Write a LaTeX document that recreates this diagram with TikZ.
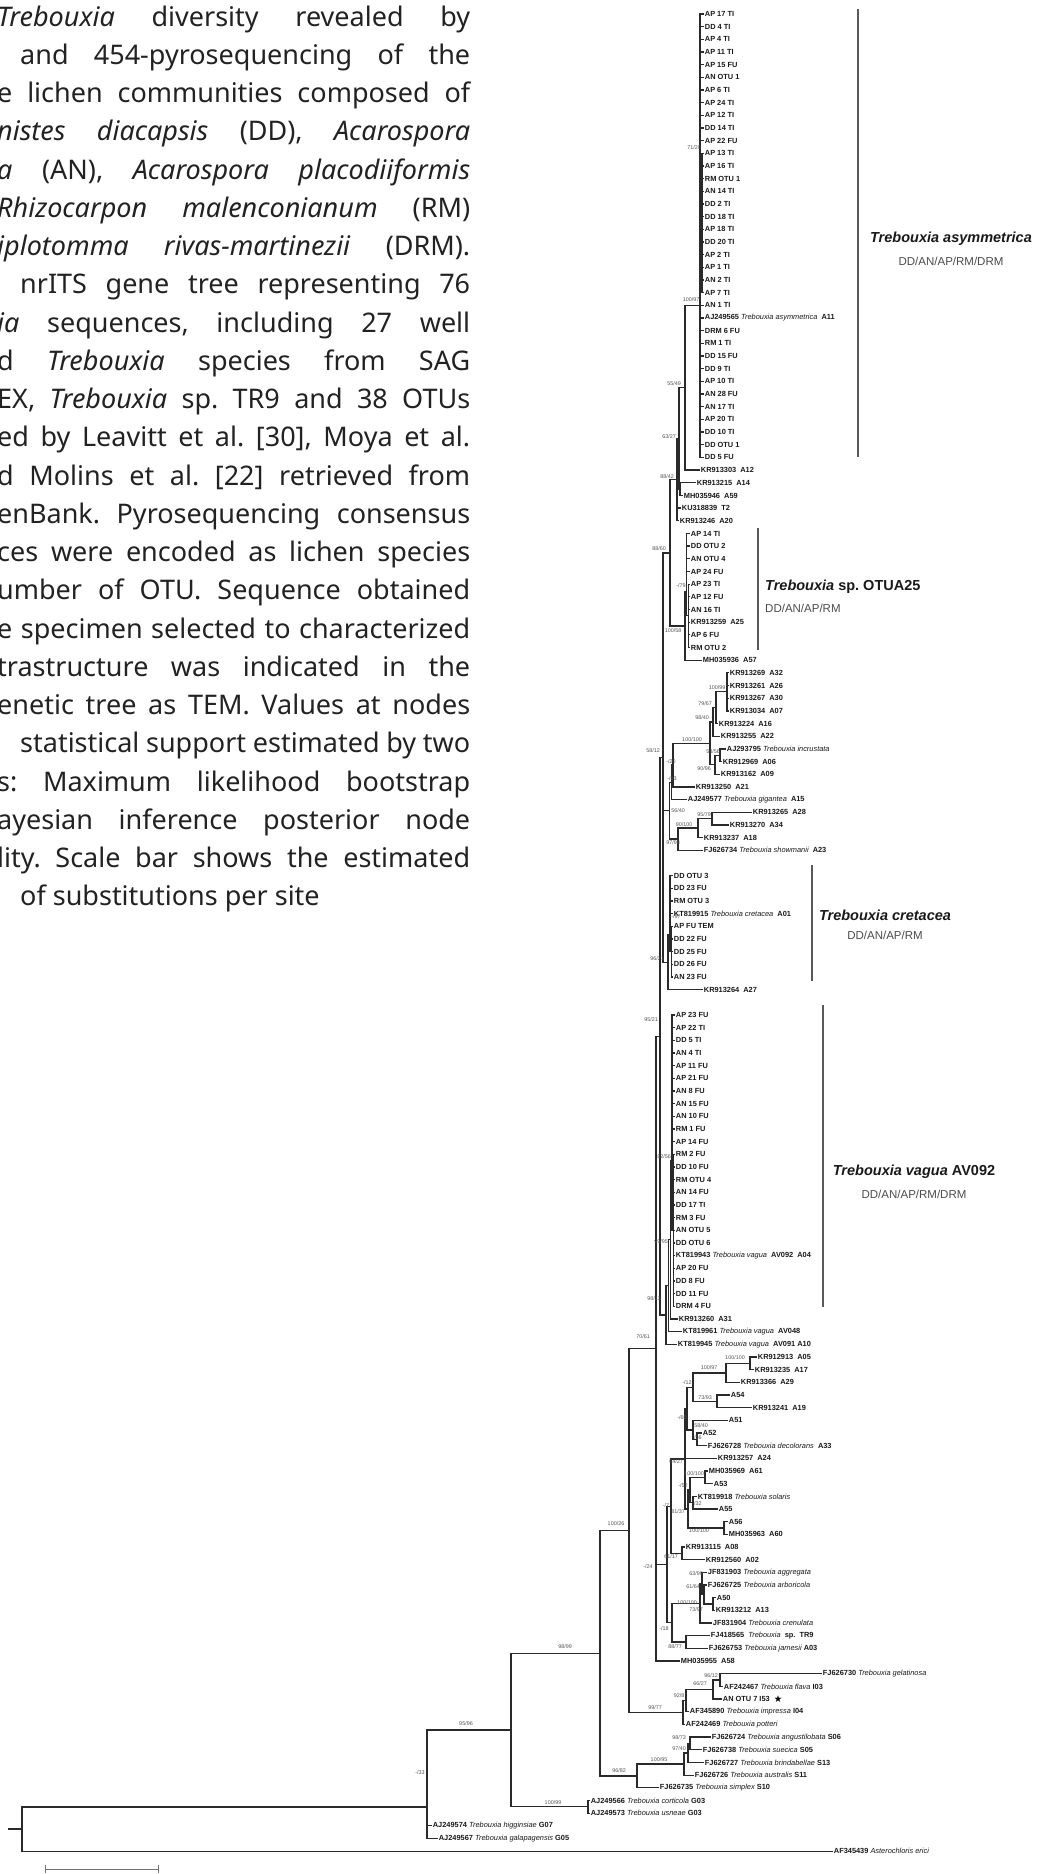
\documentclass[tikz,border=0pt]{standalone}
\usepackage{fontspec}
\setmainfont{Noto Sans}
\newfontfamily\treefont{Liberation Sans}
\newfontfamily\symbfont{DejaVu Sans}
\usetikzlibrary{positioning}
\definecolor{treeline}{HTML}{2A2A2A}
\definecolor{suppgray}{HTML}{555555}
\definecolor{captext}{HTML}{222222}
\newcommand\spn[1]{{\mdseries\itshape #1}}
\frenchspacing

\begin{document}
\begin{tikzpicture}[
    x=1pt, y=-1pt,
    declare function={ty(\k)=14+12.67*\k;},
    br/.style={draw=treeline, line width=1.3pt},
    leaf/.style={anchor=west, inner sep=0.7pt, text=black!90,
      font=\treefont\bfseries\fontsize{7.4}{8}\selectfont},
    supp/.style={inner sep=0pt, text=suppgray,
      font=\treefont\fontsize{5.4}{6}\selectfont},
    cladebar/.style={draw=black!65, line width=1.1pt},
    cladename/.style={inner sep=0pt, text=black!90,
      font=\treefont\bfseries\fontsize{14.5}{16}\selectfont},
    cladesub/.style={inner sep=0pt, text=black!70,
      font=\treefont\fontsize{11.5}{13}\selectfont},
    capline/.style={anchor=base west, inner sep=0pt, text=captext,
      font=\fontsize{27}{32}\selectfont},
  ]
  \path[use as bounding box, fill=white] (0,0) rectangle (1041,1874);

  % caption (cut at the left edge)
  \node[capline] (cap0) at (-3,{26+38.25*0}) {\makebox[473pt][s]{\textit{Trebouxia} diversity revealed by}};
  \node[capline] (cap1) at (20,{26+38.25*1}) {\makebox[450pt][s]{and 454-pyrosequencing of the}};
  \node[capline] (cap2) at (-3,{26+38.25*2}) {\makebox[473pt][s]{e lichen communities composed of}};
  \node[capline] (cap3) at (-3,{26+38.25*3}) {\makebox[473pt][s]{\textit{nistes diacapsis} (DD), \textit{Acarospora}}};
  \node[capline] (cap4) at (-3,{26+38.25*4}) {\makebox[473pt][s]{\textit{a} (AN), \textit{Acarospora placodiiformis}}};
  \node[capline] (cap5) at (-3,{26+38.25*5}) {\makebox[473pt][s]{\textit{Rhizocarpon malenconianum} (RM)}};
  \node[capline] (cap6) at (-3,{26+38.25*6}) {\makebox[473pt][s]{\textit{iplotomma rivas-martinezii} (DRM).}};
  \node[capline] (cap7) at (20,{26+38.25*7}) {\makebox[450pt][s]{nrITS gene tree representing 76}};
  \node[capline] (cap8) at (-3,{26+38.25*8}) {\makebox[473pt][s]{\textit{ia} sequences, including 27 well}};
  \node[capline] (cap9) at (-3,{26+38.25*9}) {\makebox[473pt][s]{d \textit{Trebouxia} species from SAG}};
  \node[capline] (cap10) at (-3,{26+38.25*10}) {\makebox[473pt][s]{EX, \textit{Trebouxia} sp. TR9 and 38 OTUs}};
  \node[capline] (cap11) at (-3,{26+38.25*11}) {\makebox[473pt][s]{ed by Leavitt et al. [30], Moya et al.}};
  \node[capline] (cap12) at (-3,{26+38.25*12}) {\makebox[473pt][s]{d Molins et al. [22] retrieved from}};
  \node[capline] (cap13) at (-3,{26+38.25*13}) {\makebox[473pt][s]{enBank. Pyrosequencing consensus}};
  \node[capline] (cap14) at (-3,{26+38.25*14}) {\makebox[473pt][s]{ces were encoded as lichen species}};
  \node[capline] (cap15) at (-3,{26+38.25*15}) {\makebox[473pt][s]{umber of OTU. Sequence obtained}};
  \node[capline] (cap16) at (-3,{26+38.25*16}) {\makebox[473pt][s]{e specimen selected to characterized}};
  \node[capline] (cap17) at (-3,{26+38.25*17}) {\makebox[473pt][s]{trastructure was indicated in the}};
  \node[capline] (cap18) at (-3,{26+38.25*18}) {\makebox[473pt][s]{enetic tree as TEM. Values at nodes}};
  \node[capline] (cap19) at (20,{26+38.25*19}) {\makebox[450pt][s]{statistical support estimated by two}};
  \node[capline] (cap20) at (-3,{26+38.25*20}) {\makebox[473pt][s]{s: Maximum likelihood bootstrap}};
  \node[capline] (cap21) at (-3,{26+38.25*21}) {\makebox[473pt][s]{ayesian inference posterior node}};
  \node[capline] (cap22) at (-3,{26+38.25*22}) {\makebox[473pt][s]{lity. Scale bar shows the estimated}};
  \node[capline] (cap23) at (20,{26+38.25*23}) {of substitutions per site};

  % tips: T. asymmetrica
  \foreach \i/\t in {0/AP 17 TI, 1/DD 4 TI, 2/AP 4 TI, 3/AP 11 TI, 4/AP 15 FU,
      5/AN OTU 1, 6/AP 6 TI, 7/AP 24 TI, 8/AP 12 TI, 9/DD 14 TI, 10/AP 22 FU,
      11/AP 13 TI, 12/AP 16 TI, 13/RM OTU 1, 14/AN 14 TI, 15/DD 2 TI,
      16/DD 18 TI, 17/AP 18 TI, 18/DD 20 TI, 19/AP 2 TI, 20/AP 1 TI,
      21/AN 2 TI, 22/AP 7 TI, 23/AN 1 TI,
      24/{AJ249565 \spn{Trebouxia asymmetrica}~~A11}, 25/DRM 6 FU, 26/RM 1 TI,
      27/DD 15 FU, 28/DD 9 TI, 29/AP 10 TI, 30/AN 28 FU, 31/AN 17 TI,
      32/AP 20 TI, 33/DD 10 TI, 34/DD OTU 1, 35/DD 5 FU}
    \node[leaf] (l\i) at (704,{ty(\i)}) {\t};
  \node[leaf] (l36) at (700,{ty(36)}) {KR913303~~A12};
  \node[leaf] (l37) at (696,{ty(37)}) {KR913215~~A14};
  \node[leaf] (l38) at (683,{ty(38)}) {MH035946~~A59};
  \node[leaf] (l39) at (681,{ty(39)}) {KU318839~~T2};
  \node[leaf] (l40) at (679,{ty(40)}) {KR913246~~A20};
  % T. sp. OTUA25
  \foreach \i/\t in {41/AP 14 TI, 42/DD OTU 2, 43/AN OTU 4, 44/AP 24 FU,
      45/AP 23 TI, 46/AP 12 FU, 47/AN 16 TI, 48/KR913259~~A25, 49/AP 6 FU,
      50/RM OTU 2}
    \node[leaf] (l\i) at (690,{ty(\i)}) {\t};
  \node[leaf] (l51) at (702,{ty(51)}) {MH035936~~A57};
  \foreach \i/\t in {52/KR913269~~A32, 53/KR913261~~A26, 54/KR913267~~A30,
      55/KR913034~~A07}
    \node[leaf] (l\i) at (729,{ty(\i)}) {\t};
  \node[leaf] (l56) at (718,{ty(56)}) {KR913224~~A16};
  \node[leaf] (l57) at (720,{ty(57)}) {KR913255~~A22};
  \node[leaf] (l58) at (726,{ty(58)}) {AJ293795 \spn{Trebouxia incrustata}};
  \node[leaf] (l59) at (722,{ty(59)}) {KR912969~~A06};
  \node[leaf] (l60) at (720,{ty(60)}) {KR913162~~A09};
  \node[leaf] (l61) at (695,{ty(61)}) {KR913250~~A21};
  \node[leaf] (l62) at (687,{ty(62)}) {AJ249577 \spn{Trebouxia gigantea}~~A15};
  \node[leaf] (l63) at (752,{ty(63)}) {KR913265~~A28};
  \node[leaf] (l64) at (729,{ty(64)}) {KR913270~~A34};
  \node[leaf] (l65) at (703,{ty(65)}) {KR913237~~A18};
  \node[leaf] (l66) at (703,{ty(66)}) {FJ626734 \spn{Trebouxia showmanii}~~A23};
  % T. cretacea
  \foreach \i/\t in {68/DD OTU 3, 69/DD 23 FU, 70/RM OTU 3,
      71/{KT819915 \spn{Trebouxia cretacea}~~A01}, 72/AP FU TEM, 73/DD 22 FU,
      74/DD 25 FU, 75/DD 26 FU, 76/AN 23 FU}
    \node[leaf] (l\i) at (673,{ty(\i)}) {\t};
  \node[leaf] (l77) at (703,{ty(77)}) {KR913264~~A27};
  % T. vagua
  \foreach \i/\t in {79/AP 23 FU, 80/AP 22 TI, 81/DD 5 TI, 82/AN 4 TI,
      83/AP 11 FU, 84/AP 21 FU, 85/AN 8 FU, 86/AN 15 FU, 87/AN 10 FU,
      88/RM 1 FU, 89/AP 14 FU, 90/RM 2 FU, 91/DD 10 FU, 92/RM OTU 4,
      93/AN 14 FU, 94/DD 17 TI, 95/RM 3 FU, 96/AN OTU 5, 97/DD OTU 6,
      98/{KT819943 \spn{Trebouxia vagua}~~AV092~~A04}, 99/AP 20 FU,
      100/DD 8 FU, 101/DD 11 FU, 102/DRM 4 FU}
    \node[leaf] (l\i) at (675,{ty(\i)}) {\t};
  \node[leaf] (l103) at (678,{ty(103)}) {KR913260~~A31};
  \node[leaf] (l104) at (682,{ty(104)}) {KT819961 \spn{Trebouxia vagua}~~AV048};
  \node[leaf] (l105) at (677,{ty(105)}) {KT819945 \spn{Trebouxia vagua}~~AV091 A10};
  % lower part
  \node[leaf] (l106) at (757,{ty(106)}) {KR912913~~A05};
  \node[leaf] (l107) at (754,{ty(107)}) {KR913235~~A17};
  \node[leaf] (l108) at (740,{ty(108)}) {KR913366~~A29};
  \node[leaf] (l109) at (730,{ty(109)}) {A54};
  \node[leaf] (l110) at (752,{ty(110)}) {KR913241~~A19};
  \node[leaf] (l111) at (728,{ty(111)}) {A51};
  \node[leaf] (l112) at (702,{ty(112)}) {A52};
  \node[leaf] (l113) at (707,{ty(113)}) {FJ626728 \spn{Trebouxia decolorans}~~A33};
  \node[leaf] (l114) at (717,{ty(114)}) {KR913257~~A24};
  \node[leaf] (l115) at (708,{ty(115)}) {MH035969~~A61};
  \node[leaf] (l116) at (713,{ty(116)}) {A53};
  \node[leaf] (l117) at (697,{ty(117)}) {KT819918 \spn{Trebouxia solaris}};
  \node[leaf] (l118) at (718,{ty(118)}) {A55};
  \node[leaf] (l119) at (728,{ty(119)}) {A56};
  \node[leaf] (l120) at (728,{ty(120)}) {MH035963~~A60};
  \node[leaf] (l121) at (685,{ty(121)}) {KR913115~~A08};
  \node[leaf] (l122) at (705,{ty(122)}) {KR912560~~A02};
  \node[leaf] (l123) at (707,{ty(123)}) {JF831903 \spn{Trebouxia aggregata}};
  \node[leaf] (l124) at (707,{ty(124)}) {FJ626725 \spn{Trebouxia arboricola}};
  \node[leaf] (l125) at (716,{ty(125)}) {A50};
  \node[leaf] (l126) at (715,{ty(126)}) {KR913212~~A13};
  \node[leaf] (l127) at (712,{ty(127)}) {JF831904 \spn{Trebouxia crenulata}};
  \node[leaf] (l128) at (710,{ty(128)}) {FJ418565~~\spn{Trebouxia}~~sp.~~TR9};
  \node[leaf] (l129) at (708,{ty(129)}) {FJ626753 \spn{Trebouxia jamesii} A03};
  \node[leaf] (l130) at (680,{ty(130)}) {MH035955~~A58};
  \node[leaf] (l131) at (822,{ty(131)}) {FJ626730 \spn{Trebouxia gelatinosa}};
  \node[leaf] (l132) at (723,{ty(132)}) {AF242467 \spn{Trebouxia flava} I03};
  \node[leaf] (l133) at (722,{ty(133)}) {AN OTU 7 I53};
  \node[inner sep=0pt, right=3pt of l133, font=\symbfont\fontsize{9.5}{10}\selectfont] (star) {★};
  \node[leaf] (l134) at (689,{ty(134)}) {AF345890 \spn{Trebouxia impressa} I04};
  \node[leaf] (l135) at (685,{ty(135)}) {AF242469 \spn{Trebouxia potteri}};
  \node[leaf] (l136) at (711,{ty(136)}) {FJ626724 \spn{Trebouxia angustilobata} S06};
  \node[leaf] (l137) at (702,{ty(137)}) {FJ626738 \spn{Trebouxia suecica} S05};
  \node[leaf] (l138) at (704,{ty(138)}) {FJ626727 \spn{Trebouxia brindabellae} S13};
  \node[leaf] (l139) at (694,{ty(139)}) {FJ626726 \spn{Trebouxia australis} S11};
  \node[leaf] (l140) at (659,{ty(140)}) {FJ626735 \spn{Trebouxia simplex} S10};
  \node[leaf] (l141) at (590,{ty(141)}) {AJ249566 \spn{Trebouxia corticola} G03};
  \node[leaf] (l142) at (590,{ty(142)}) {AJ249573 \spn{Trebouxia usneae} G03};
  \node[leaf] (l143) at (432,{ty(143)}) {AJ249574 \spn{Trebouxia higginsiae} G07};
  \node[leaf] (l144) at (438,{ty(144)}) {AJ249567 \spn{Trebouxia galapagensis} G05};
  \node[leaf] (l145) at (833,{ty(145)}) {AF345439 \spn{Asterochloris erici}};

  % inner nodes
  \coordinate (cA1) at (700,305.4);   \coordinate (cA1b) at (702,223.1);
  \coordinate (n2) at (685,387.8);    \coordinate (nA) at (680,489.2);
  \coordinate (n3) at (679,438.5);    \coordinate (n4) at (677,479.7);
  \coordinate (cO) at (686.5,592);    \coordinate (cOb) at (688.5,615.8);
  \coordinate (n6) at (685,626.1);    \coordinate (n5) at (670,552.9);
  \coordinate (c1) at (727,691.8);    \coordinate (i2) at (716,707.7);
  \coordinate (i3) at (713,722);      \coordinate (i4) at (720,755.2);
  \coordinate (i5) at (715,764.7);    \coordinate (i6) at (710,743.4);
  \coordinate (i7) at (673,765.1);    \coordinate (i8) at (671.5,782.3);
  \coordinate (s1) at (712,818.5);    \coordinate (s2) at (698,828);
  \coordinate (s3) at (678,839.1);    \coordinate (i9) at (669.5,810.7);
  \coordinate (cr) at (670,935);      \coordinate (crb) at (671.5,951.6);
  \coordinate (C) at (668,962.3);     \coordinate (Uu) at (663,757.6);
  \coordinate (va1) at (672,1160.6);  \coordinate (va1b) at (673.5,1230.3);
  \coordinate (va2) at (670.5,1239.8); \coordinate (va3) at (668.5,1285.8);
  \coordinate (va4) at (666,1315.1);  \coordinate (Z) at (660,1036.4);
  \coordinate (k1) at (750,1363.4);   \coordinate (k2) at (726,1372.9);
  \coordinate (k4) at (717,1401.4);   \coordinate (k3) at (693,1387.2);
  \coordinate (k7) at (697,1439.4);   \coordinate (k6) at (693,1429.9);
  \coordinate (k5) at (687,1408.6);   \coordinate (m1) at (705,1477.4);
  \coordinate (m2) at (693,1502.8);   \coordinate (m3) at (690,1490.1);
  \coordinate (m4) at (724,1528.1);   \coordinate (m5) at (688,1509.1);
  \coordinate (Yc) at (685,1458.9);   \coordinate (Yd) at (682,1553.4);
  \coordinate (Ya) at (671,1506.2);   \coordinate (a3) at (713,1604.1);
  \coordinate (a2b) at (704,1594.6);  \coordinate (a2) at (702,1583.5);
  \coordinate (a1) at (700,1603.3);   \coordinate (t1) at (686,1642.1);
  \coordinate (Yb) at (672,1622.7);   \coordinate (Y) at (667,1564.5);
  \coordinate (W) at (656,1348.8);    \coordinate (x1) at (720,1680.1);
  \coordinate (x2) at (713,1689.6);   \coordinate (x3) at (686,1700.7);
  \coordinate (X) at (683,1712.6);    \coordinate (Q) at (629,1530.7);
  \coordinate (U2) at (690,1743.5);   \coordinate (U) at (688,1753);
  \coordinate (T) at (684,1764.1);    \coordinate (S) at (637,1776);
  \coordinate (P) at (600,1653.4);    \coordinate (G) at (588,1806.8);
  \coordinate (R) at (511,1730.1);    \coordinate (H) at (427,1807);
  \coordinate (nroot) at (22,1829.1); \coordinate (rstub) at (8,1829.1);

  % branches
  \foreach \i in {0,...,10} \draw[br] (cA1) |- (l\i.west);
  \foreach \i in {23,...,35} \draw[br] (cA1) |- (l\i.west);
  \foreach \i in {11,...,22} \draw[br] (cA1b) |- (l\i.west);
  \foreach \i in {41,...,44} \draw[br] (cO) |- (l\i.west);
  \foreach \i in {45,...,50} \draw[br] (cOb) |- (l\i.west);
  \foreach \i in {52,...,55} \draw[br] (c1) |- (l\i.west);
  \foreach \i in {68,...,71} \draw[br] (cr) |- (l\i.west);
  \foreach \i in {72,...,76} \draw[br] (crb) |- (l\i.west);
  \foreach \i in {79,...,89} \draw[br] (va1) |- (l\i.west);
  \foreach \i in {90,...,102} \draw[br] (va1b) |- (l\i.west);
  \foreach \p/\c in {cA1/cA1b, n2/cA1, n2/l36.west, nA/l37.west, nA/l38.west,
      n3/n2, n3/nA, n4/n3, n4/l39.west, n4/l40.west, cO/cOb, n6/cO,
      n6/l51.west, n5/n4, n5/n6,
      i2/c1, i2/l56.west, i3/i2, i3/l57.west, i4/l58.west, i4/l59.west,
      i5/i4, i5/l60.west, i6/i3, i6/i5, i7/i6, i7/l61.west, i8/i7,
      i8/l62.west, s1/l63.west, s1/l64.west, s2/s1, s2/l65.west, s3/s2,
      s3/l66.west, i9/i8, i9/s3,
      cr/crb, C/cr, C/l77.west, Uu/n5, Uu/i9, Uu/C,
      va1/va1b, va2/va1, va2/l103.west, va3/va2, va3/l104.west, va4/va3,
      va4/l105.west, Z/Uu, Z/va4,
      k1/l106.west, k1/l107.west, k2/k1, k2/l108.west, k4/l109.west,
      k4/l110.west, k3/k2, k3/k4, k7/l112.west, k7/l113.west, k6/l111.west,
      k6/k7, k5/k3, k5/k6, m1/l115.west, m1/l116.west, m2/l117.west,
      m2/l118.west, m3/m1, m3/m2, m4/l119.west, m4/l120.west, m5/m3, m5/m4,
      Yc/k5, Yc/l114.west, Yc/m5, Yd/l121.west, Yd/l122.west, Ya/Yc, Ya/Yd,
      a3/l125.west, a3/l126.west, a2b/l124.west, a2b/a3, a2/l123.west,
      a2/a2b, a1/a2, a1/l127.west, t1/l128.west, t1/l129.west, Yb/a1,
      Yb/t1, Y/Ya, Y/Yb, W/Z, W/Y, W/l130.west,
      x1/l131.west, x1/l132.west, x2/x1, x2/l133.west, x3/x2, x3/l134.west,
      X/x3, X/l135.west, Q/W, Q/X,
      U2/l136.west, U2/l137.west, U/U2, U/l138.west, T/U, T/l139.west,
      S/T, S/l140.west, P/Q, P/S, G/l141.west, G/l142.west, R/P, R/G,
      H/R, H/l143.west, H/l144.west, nroot/H, nroot/l145.west}
    \draw[br] (\p) |- (\c);
  \draw[br] (rstub) -- (nroot);

  % support values
  \foreach \x/\y/\t [count=\n] in {694/148/{71/20}, 691/300/{100/97},
      674/384/{55/49}, 669/437/{63/27}, 667/477/{88/42}, 659/549/{88/60},
      681/586/{-/79}, 673/631/{100/58}, 717/688/{100/99}, 705/704/{79/67},
      702/718/{98/40}, 713/752/{58/56}, 692/740/{100/100}, 653/751/{58/12},
      671/762/{-/20}, 704/769/{90/96}, 672/779/{-/53}, 678/811/{56/40},
      704/815/{95/79}, 684/825/{90/100}, 673/843/{97/98}, 676/917/{-/97},
      657/959/{96/21}, 651/1020/{95/21}, 664/1157/{82/56}, 661/1242/{99/95},
      654/1299/{98/13}, 643/1337/{70/61}, 735/1358/{100/100},
      709/1368/{100/97}, 687/1383/{-/12}, 705/1398/{73/93}, 682/1418/{-/60},
      701/1426/{58/40}, 697/1438/{-/56}, 676/1462/{64/27},
      694/1474/{100/100}, 683/1486/{-/52}, 697/1504/{-/32}, 666/1506/{-/7},
      678/1512/{81/37}, 699/1531/{100/100}, 616/1524/{100/26},
      671/1557/{61/17}, 648/1567/{-/24}, 696/1574/{63/99}, 693/1587/{61/64},
      687/1603/{100/100}, 696/1610/{73/97}, 664/1629/{-/18}, 675/1647/{88/77},
      565/1647/{98/99}, 711/1676/{96/12}, 700/1684/{66/27}, 679/1696/{92/8},
      655/1708/{99/77}, 679/1738/{98/73}, 679/1749/{97/40},
      659/1760/{100/95}, 619/1771/{96/82}, 553/1803/{100/99},
      466/1724/{95/96}, 420/1773/{-/33}}
    \node[supp] (sv\n) at (\x,\y) {\t};

  % clade bars and names
  \coordinate (bA1) at (858,9);     \coordinate (bA2) at (858,457);
  \coordinate (bO1) at (758,528);   \coordinate (bO2) at (758,650);
  \coordinate (bC1) at (812,865);   \coordinate (bC2) at (812,981);
  \coordinate (bV1) at (823,1005);  \coordinate (bV2) at (823,1307);
  \draw[cladebar] (bA1) -- (bA2);
  \draw[cladebar] (bO1) -- (bO2);
  \draw[cladebar] (bC1) -- (bC2);
  \draw[cladebar] (bV1) -- (bV2);
  \node[cladename] (tA) at (951,239) {\itshape Trebouxia asymmetrica};
  \node[cladesub, below=11pt of tA] (dA) {DD/AN/AP/RM/DRM};
  \node[cladename, anchor=west] (tO) at (765,587) {{\itshape Trebouxia} sp. OTUA25};
  \node[cladesub, below=10pt of tO.south west, anchor=north west] (dO) {DD/AN/AP/RM};
  \node[cladename] (tC) at (885,915) {\itshape Trebouxia cretacea};
  \node[cladesub, below=10pt of tC] (dC) {DD/AN/AP/RM};
  \node[cladename] (tV) at (914,1172) {{\itshape Trebouxia vagua} AV092};
  \node[cladesub, below=11pt of tV] (dV) {DD/AN/AP/RM/DRM};

  % scale bar
  \coordinate (sb1) at (45,1869);  \coordinate (sb2) at (159,1869);
  \draw[black!55, line width=0.8pt, |-|] (sb1) -- (sb2);
\end{tikzpicture}
\end{document}
